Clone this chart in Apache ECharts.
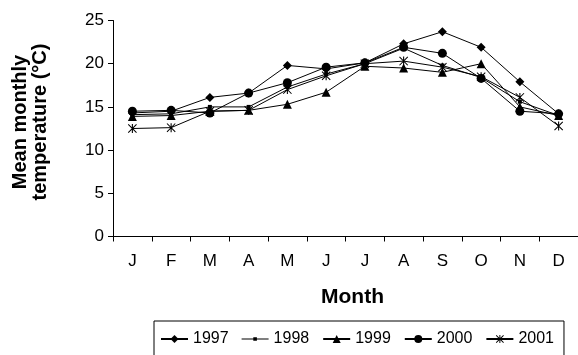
<!DOCTYPE html>
<html>
<head>
<meta charset="utf-8">
<script src="https://cdn.jsdelivr.net/npm/echarts@6/dist/echarts.min.js"></script>
<style>
  html, body { margin: 0; padding: 0; background: #fff; }
  #main { width: 578px; height: 355px; }
</style>
</head>
<body>
<div id="main"></div>
<script>
var months = ['J', 'F', 'M', 'A', 'M', 'J', 'J', 'A', 'S', 'O', 'N', 'D'];
var yTicks = [0, 5, 10, 15, 20, 25];

var t1997 = [14.3, 14.5, 16.1, 16.6, 19.8, 19.4, 20.1, 22.3, 23.7, 21.9, 17.9, 14.2];
var t1998 = [14.1, 14.2, 15.0, 15.0, 17.3, 18.8, 20.0, 21.8, 19.8, 18.4, 15.6, 14.0];
var t1999 = [13.9, 14.0, 14.5, 14.6, 15.3, 16.7, 19.7, 19.5, 19.0, 20.0, 15.0, 14.0];
var t2000 = [14.5, 14.6, 14.3, 16.6, 17.8, 19.6, 20.1, 21.9, 21.2, 18.3, 14.5, 14.2];
var t2001 = [12.5, 12.6, 14.5, 14.6, 17.0, 18.6, 20.0, 20.3, 19.6, 18.5, 16.1, 12.8];

// asterisk marker (vertical bar + two diagonals)
var asterisk = 'path://M4.4 0L5.6 0L5.6 10L4.4 10Z' +
  'M0 0.8L0.8 0L10 9.2L9.2 10Z' +
  'M9.2 0L10 0.8L0.8 10L0 9.2Z';
// legend icon for 1998: thin line with a small square in the middle
var smallSquareIcon = 'path://M0 0M27 10' +
  'M0 4.5L27 4.5L27 5.5L0 5.5Z' +
  'M11.7 3.2L15.3 3.2L15.3 6.8L11.7 6.8Z';

var font = 'Liberation Sans, Arial, sans-serif';

function mkSeries(name, data, symbol, size) {
  return {
    name: name,
    type: 'line',
    data: data,
    symbol: symbol,
    symbolSize: size,
    showAllSymbol: true,
    lineStyle: { color: '#000', width: 1 },
    itemStyle: { color: '#000', borderWidth: 0 },
    emphasis: { disabled: true }
  };
}

var myChart = echarts.init(document.getElementById('main'));
myChart.setOption({
  animation: false,
  backgroundColor: '#fff',
  textStyle: { fontFamily: font, color: '#000' },
  grid: { left: 113, top: 20.5, bottom: 118.5, right: -6.6 },
  legend: {
    left: 154,
    top: 321,
    orient: 'horizontal',
    borderColor: '#000',
    borderWidth: 1,
    padding: [10, 10, 10, 6],
    itemWidth: 27,
    itemHeight: 10,
    itemGap: 13,
    textStyle: { fontSize: 16, color: '#000', fontFamily: font },
    data: [
      { name: '1997' },
      { name: '1998', icon: smallSquareIcon },
      { name: '1999' },
      { name: '2000' },
      { name: '2001' }
    ]
  },
  xAxis: {
    type: 'category',
    data: months,
    boundaryGap: true,
    name: 'Month',
    nameLocation: 'middle',
    nameGap: 50,
    nameTextStyle: { fontSize: 21, fontWeight: 'bold', color: '#000', padding: [0, 0, 0, 14] },
    axisLine: { lineStyle: { color: '#000', width: 1 } },
    axisTick: { show: true, length: 5, lineStyle: { color: '#000' } },
    axisLabel: { fontSize: 17, color: '#000', margin: 16 },
    splitLine: { show: false }
  },
  yAxis: {
    type: 'value',
    min: yTicks[0],
    max: yTicks[yTicks.length - 1],
    interval: 5,
    name: 'Mean monthly\ntemperature (\u00B0C)',
    nameLocation: 'middle',
    nameRotate: 90,
    nameGap: 63,
    nameTextStyle: { fontSize: 20, fontWeight: 'bold', color: '#000', lineHeight: 20, padding: [0, 0, 0, 13] },
    axisLine: { show: true, lineStyle: { color: '#000', width: 1 } },
    axisTick: { show: true, length: 5, lineStyle: { color: '#000' } },
    axisLabel: { fontSize: 17, color: '#000', margin: 9 },
    splitLine: { show: false }
  },
  series: [
    mkSeries('1997', t1997, 'diamond', 9),
    mkSeries('1998', t1998, 'rect', 4),
    mkSeries('1999', t1999, 'triangle', 9),
    mkSeries('2000', t2000, 'circle', 9),
    mkSeries('2001', t2001, asterisk, 9)
  ]
});
</script>
</body>
</html>
